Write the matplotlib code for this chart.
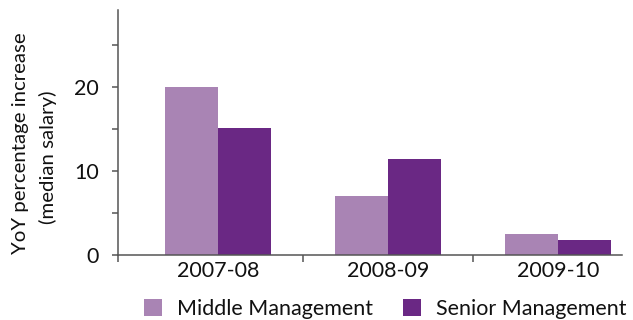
import matplotlib
matplotlib.use("Agg")
import matplotlib.pyplot as plt
from matplotlib.patches import Patch
import numpy as np

plt.rcParams['font.family'] = ['Lato', 'DejaVu Sans']

periods = ["2007-08", "2008-09", "2009-10"]
middle_mgmt = [20.0, 7.0, 2.5]
senior_mgmt = [15.1, 11.5, 1.8]
series_names = ["Middle Management", "Senior Management"]
y_major = [0, 10, 20]
y_minor = [5, 15, 25]

c_middle = "#a984b4"
c_senior = "#6a2884"
axis_color = "#555555"
text_color = "#111111"
fs = 15.5

fig = plt.figure(figsize=(6.33, 3.2), dpi=100)
ax = fig.add_axes([118 / 633, 65 / 320, 504 / 633, 245 / 320])

x = np.arange(len(periods))
w = 0.312
ax.bar(x - w / 2, middle_mgmt, width=w, color=c_middle, linewidth=0)
ax.bar(x + w / 2, senior_mgmt, width=w, color=c_senior, linewidth=0)

xl = (-0.588, 2.376)
ax.set_xlim(*xl)
ax.set_ylim(0, 29.2)

for s in ("top", "right"):
    ax.spines[s].set_visible(False)
for s in ("left", "bottom"):
    ax.spines[s].set_color(axis_color)
    ax.spines[s].set_linewidth(1.1)

ax.set_xticks(x)
ax.set_xticklabels(periods, fontsize=fs, color=text_color)
ax.set_xticks([xl[0], 0.5, 1.5], minor=True)
ax.tick_params(axis="x", which="major", length=0, pad=4)
ax.tick_params(axis="x", which="minor", length=5, width=1.1, color=axis_color, direction="out")

ax.set_yticks(y_major)
ax.set_yticklabels([str(v) for v in y_major], fontsize=fs, color=text_color)
ax.set_yticks(y_minor, minor=True)
ax.tick_params(axis="y", which="both", length=4, width=1.1, color=axis_color, direction="out", pad=10)

fig.text(20.5 / 633, (320 - 143) / 320, "YoY percentage increase", rotation=90,
         ha="center", va="center", fontsize=14.7, color=text_color)
fig.text(47.5 / 633, (320 - 157) / 320, "(median salary)", rotation=90,
         ha="center", va="center", fontsize=14.7, color=text_color)

handles = [Patch(facecolor=c_middle, edgecolor="none"),
           Patch(facecolor=c_senior, edgecolor="none")]
leg = fig.legend(handles, series_names, loc="center", bbox_to_anchor=(385.5 / 633, 11 / 320),
                 ncol=2, frameon=False, fontsize=fs, handlelength=0.84, handleheight=0.84,
                 handletextpad=0.7, columnspacing=1.4, borderpad=0, borderaxespad=0)
for t in leg.get_texts():
    t.set_color(text_color)

fig.savefig("out.png", dpi=100)
